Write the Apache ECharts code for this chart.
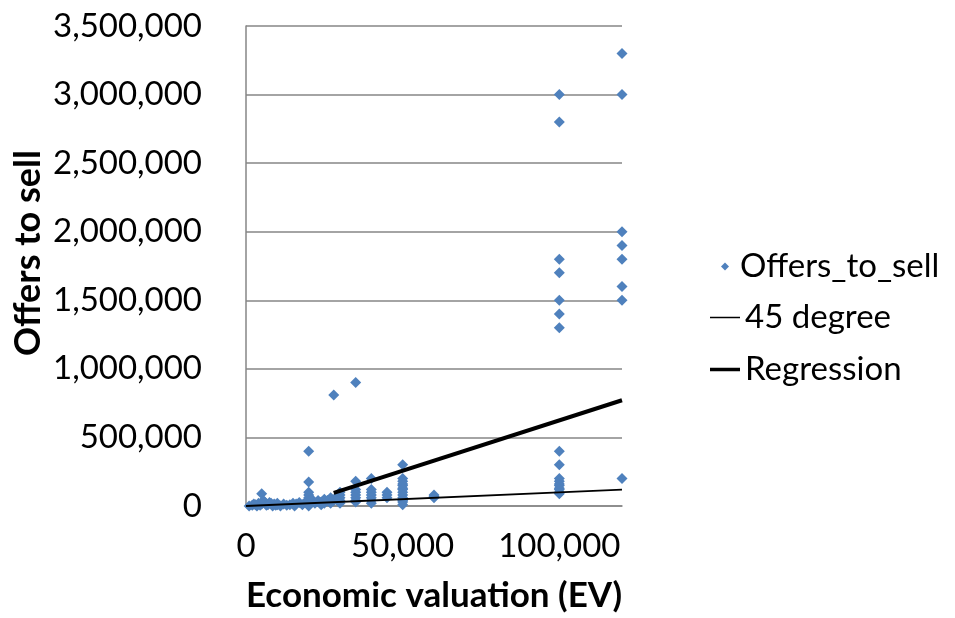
<!DOCTYPE html>
<html><head><meta charset="utf-8">
<script src="https://cdn.jsdelivr.net/npm/echarts@6/dist/echarts.min.js"></script>
<style>html,body{margin:0;padding:0;background:#fff}#c{width:955px;height:618px}</style>
</head><body><div id="c"></div>
<script>
// Economic valuation (EV), Offers to sell
const offersToSell = [
  [1000,0],[2000,5000],[2500,15000],[3000,10000],[3500,0],[4000,20000],[4500,5000],[5000,15000],[5000,90000],[5500,40000],
  [6000,30000],[6500,5000],[7000,10000],[7500,25000],[8000,20000],[8500,0],[9000,15000],[9500,5000],
  [10000,10000],[10000,20000],[11000,0],[12000,15000],[13000,5000],[14000,10000],[15000,20000],[15500,0],
  [16000,15000],[17000,25000],[18000,10000],[19000,30000],
  [20000,400000],[20000,175000],[20000,100000],[20000,80000],[20000,60000],[20000,40000],[20000,30000],[20000,20000],[20000,10000],[20000,0],
  [21000,50000],[22000,20000],[23000,40000],[24000,30000],[24000,10000],[25000,50000],[25000,20000],[26000,40000],
  [27000,60000],[27000,20000],[28000,40000],[28000,810000],[29000,70000],
  [30000,100000],[30000,80000],[30000,60000],[30000,40000],[30000,20000],
  [35000,900000],[35000,180000],[35000,120000],[35000,100000],[35000,80000],[35000,60000],[35000,40000],[35000,30000],
  [40000,200000],[40000,120000],[40000,100000],[40000,80000],[40000,60000],[40000,40000],[40000,20000],
  [45000,100000],[45000,80000],[45000,60000],
  [50000,300000],[50000,200000],[50000,180000],[50000,160000],[50000,150000],[50000,130000],[50000,120000],[50000,100000],
  [50000,80000],[50000,60000],[50000,50000],[50000,40000],[50000,30000],[50000,10000],
  [60000,80000],[60000,70000],[60000,60000],
  [100000,3000000],[100000,2800000],[100000,1800000],[100000,1700000],[100000,1500000],[100000,1400000],[100000,1300000],
  [100000,400000],[100000,300000],[100000,200000],[100000,180000],[100000,160000],[100000,150000],[100000,130000],
  [100000,120000],[100000,100000],[100000,90000],
  [120000,3300000],[120000,3000000],[120000,2000000],[120000,1900000],[120000,1800000],[120000,1600000],[120000,1500000],[120000,200000]
];
const degree45 = [[0,0],[120000,120000]];
const regression = [[28000,95500],[120000,771000]];
const seriesNames = ['Offers_to_sell','45 degree','Regression'];

const FONT = 'Lato, "Open Sans", sans-serif';
const fmt = v => v.toLocaleString('en-US');
const legendText = {fontFamily:FONT,fontSize:33,color:'#000'};
const chart = echarts.init(document.getElementById('c'), null, {renderer:'canvas'});
chart.setOption({
  animation:false,
  backgroundColor:'#fff',
  grid:{left:246,right:333,top:26,bottom:108,containLabel:false},
  xAxis:{
    type:'value',min:0,max:120000,interval:50000,
    name:'Economic valuation (EV)',nameLocation:'middle',nameGap:72,
    nameTextStyle:{fontFamily:FONT,fontSize:35,fontWeight:'bold',color:'#000'},
    axisLine:{show:true,lineStyle:{color:'#868686',width:1.5}},
    axisTick:{show:false},
    splitLine:{show:false},
    axisLabel:{fontFamily:FONT,fontSize:33,color:'#000',margin:24,formatter:fmt,showMaxLabel:false}
  },
  yAxis:{
    type:'value',min:0,max:3500000,interval:500000,
    name:'Offers to sell',nameLocation:'middle',nameGap:200,nameRotate:90,
    nameTextStyle:{fontFamily:FONT,fontSize:36,fontWeight:'bold',color:'#000',padding:[0,0,0,26]},
    axisLine:{show:true,lineStyle:{color:'#868686',width:1.5}},
    axisTick:{show:false},
    splitLine:{show:true,lineStyle:{color:'#868686',width:1.5}},
    axisLabel:{fontFamily:FONT,fontSize:33,color:'#000',margin:44,formatter:fmt}
  },
  legend:[
    {orient:'vertical',left:716,top:245,itemWidth:8,itemHeight:8,itemGap:0,
     textStyle:Object.assign({},legendText,{padding:[0,0,0,6]}),
     data:[{name:seriesNames[0],icon:'diamond',itemStyle:{color:'#4F81BD'}}]},
    {orient:'vertical',left:705,top:296,itemWidth:30,itemHeight:1.5,itemGap:0,textStyle:legendText,
     data:[{name:seriesNames[1],icon:'rect',itemStyle:{color:'#000'}}]},
    {orient:'vertical',left:705,top:348,itemWidth:30,itemHeight:3.5,itemGap:0,textStyle:legendText,
     data:[{name:seriesNames[2],icon:'rect',itemStyle:{color:'#000'}}]}
  ],
  series:[
    {name:seriesNames[0],type:'scatter',data:offersToSell,symbol:'diamond',symbolSize:11,
     itemStyle:{color:'#4F81BD',opacity:1},z:3},
    {name:seriesNames[1],type:'line',data:degree45,symbol:'none',lineStyle:{color:'#000',width:1.8},itemStyle:{color:'#000'},z:4},
    {name:seriesNames[2],type:'line',data:regression,symbol:'none',lineStyle:{color:'#000',width:4},itemStyle:{color:'#000'},z:4}
  ]
});
</script></body></html>
